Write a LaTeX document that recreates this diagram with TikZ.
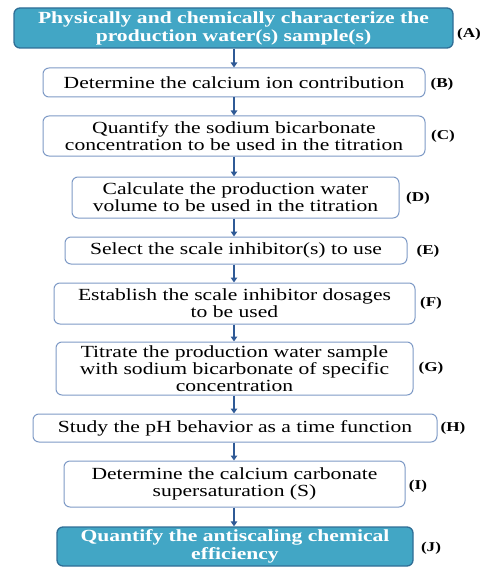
\documentclass[tikz,border=0pt]{standalone}
\usepackage{fontspec}
\setmainfont{Liberation Serif}[FakeStretch=1.27]
\usepackage{tikz}
\usetikzlibrary{arrows.meta, positioning}

\definecolor{stepblue}{HTML}{42A6C5}
\definecolor{stepedge}{HTML}{2F6E96}
\definecolor{boxedge}{HTML}{7E9AC6}
\definecolor{arrowblue}{HTML}{2F5A96}

\begin{document}
\begin{tikzpicture}[
    x=1pt, y=1pt,
    stepbox/.style={
        rectangle,
        rounded corners=6pt,
        draw=boxedge,
        line width=1pt,
        fill=white,
        align=center,
        inner sep=0pt,
        font=\fontsize{17}{17}\selectfont
    },
    keybox/.style={
        stepbox,
        draw=stepedge,
        line width=1.3pt,
        fill=stepblue,
        text=white,
        font=\fontsize{17}{18}\selectfont\bfseries
    },
    tag/.style={font=\fontsize{13.5}{13.5}\selectfont\bfseries, inner sep=1pt},
    flow/.style={-{Triangle[width=6.5pt,length=5pt]}, draw=arrowblue, line width=1.2pt}
]

\useasboundingbox (0,0) rectangle (481,-567);

\node[keybox, minimum width=439, minimum height=40] (A) at (233.5,-28)
    {Physically and chemically characterize the\\production water(s) sample(s)};
\node[stepbox, minimum width=382, minimum height=29] (B) at (234,-82.5)
    {Determine\ the calcium\ ion contribution};
\node[stepbox, minimum width=382, minimum height=40] (C) at (234,-136)
    {Quantify\ the sodium bicarbonate\\concentration to be used in\ the titration};
\node[stepbox, minimum width=327, minimum height=41] (D) at (235.5,-197.5)
    {Calculate\ the production water\\volume\ to be used in the titration};
\node[stepbox, minimum width=342, minimum height=27] (E) at (236,-250.5)
    {Select the scale inhibitor(s)\ to use};
\node[stepbox, minimum width=361, minimum height=41] (F) at (234.5,-303.5)
    {Establish the scale inhibitor\ dosages\\to be used};
\node[stepbox, minimum width=357, minimum height=53] (G) at (234.5,-368.5)
    {Titrate\ the production water\ sample\\with\ sodium bicarbonate of specific\\concentration};
\node[stepbox, minimum width=404, minimum height=28] (H) at (235,-428)
    {Study the pH behavior as a time\ function};
\node[stepbox, minimum width=341, minimum height=46] (I) at (234.5,-484)
    {Determine\ the calcium\ carbonate\\supersaturation (S)};
\node[keybox, minimum width=356, minimum height=39] (J) at (235,-546.5)
    {Quantify the antiscaling chemical\\efficiency};

\node[tag] (la) at (469,-34) {(A)};
\node[tag] (lb) at (442,-84) {(B)};
\node[tag] (lc) at (443,-136) {(C)};
\node[tag] (ld) at (418,-198) {(D)};
\node[tag] (le) at (428,-251) {(E)};
\node[tag] (lf) at (431,-303) {(F)};
\node[tag] (lg) at (431,-368) {(G)};
\node[tag] (lh) at (453,-428) {(H)};
\node[tag] (li) at (418,-486) {(I)};
\node[tag] (lj) at (431,-548) {(J)};

\draw[flow] (A.south -| 234,0) -- (B.north -| 234,0);
\draw[flow] (B.south -| 234,0) -- (C.north -| 234,0);
\draw[flow] (C.south -| 234,0) -- (D.north -| 234,0);
\draw[flow] (D.south -| 234,0) -- (E.north -| 234,0);
\draw[flow] (E.south -| 234,0) -- (F.north -| 234,0);
\draw[flow] (F.south -| 234,0) -- (G.north -| 234,0);
\draw[flow] (G.south -| 234,0) -- (H.north -| 234,0);
\draw[flow] (H.south -| 234,0) -- (I.north -| 234,0);
\draw[flow] (I.south -| 234,0) -- (J.north -| 234,0);

\end{tikzpicture}
\end{document}
